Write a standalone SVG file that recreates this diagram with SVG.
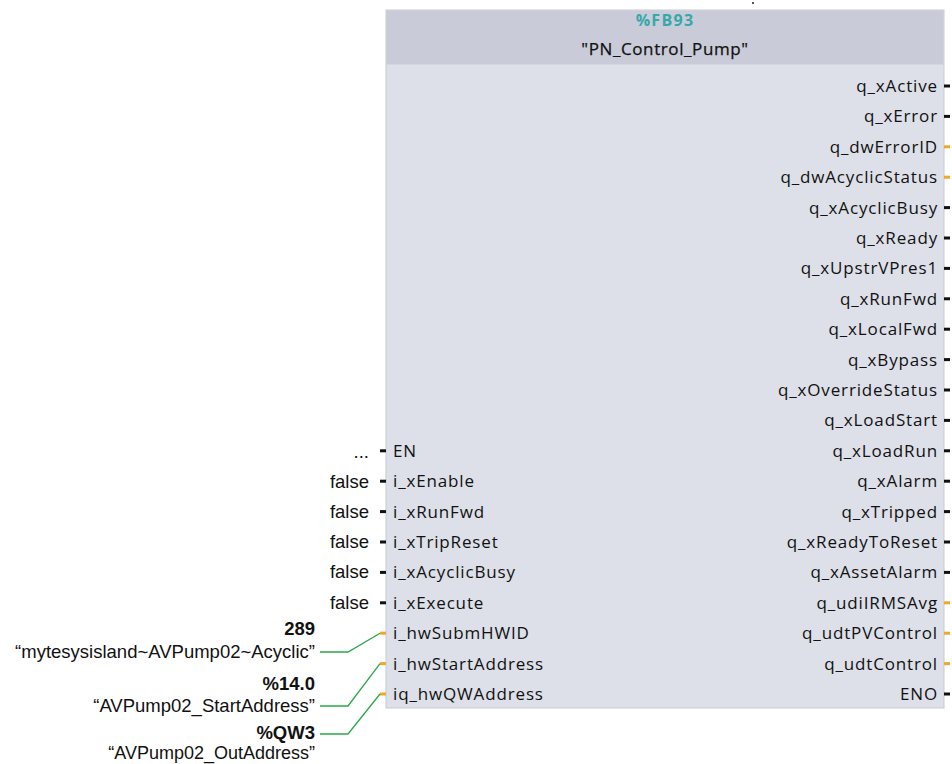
<svg xmlns="http://www.w3.org/2000/svg" width="952" height="764" viewBox="0 0 952 764">
<style>
.pin{font-family:"Open Sans","DejaVu Sans",sans-serif;font-size:17px;fill:#111;letter-spacing:0.85px}
.r{text-anchor:end}
.val{font-family:"Liberation Sans",Arial,sans-serif;font-size:18.5px;fill:#111;text-anchor:end}
.b{font-weight:bold}
.stub{stroke:#111;stroke-width:3}
.ostub{stroke:#f5a623;stroke-width:3}
.wire{fill:none;stroke:#2aa84a;stroke-width:1.3}
</style>
<rect width="952" height="764" fill="#ffffff"/>
<rect x="752" y="2" width="2" height="2" fill="#555"/>
<g id="fb93">
<rect x="386" y="10" width="558" height="698" fill="#dde0e8" stroke="#c6c9d4" stroke-width="1"/>
<rect x="386.5" y="10.5" width="557" height="54" fill="#c9cbd8"/>
<text x="665" y="26" text-anchor="middle" font-family="Open Sans,DejaVu Sans,sans-serif" font-size="16" font-weight="bold" fill="#35a9a9" letter-spacing="1.3">%FB93</text>
<text x="665" y="55" text-anchor="middle" class="pin" style="letter-spacing:0.6px;stroke:#111;stroke-width:0.25px">"PN_Control_Pump"</text>
</g>
<g id="outputs">
<text class="pin r" x="938" y="92">q_xActive</text>
<text class="pin r" x="938" y="122">q_xError</text>
<text class="pin r" x="938" y="153">q_dwErrorID</text>
<text class="pin r" x="938" y="183">q_dwAcyclicStatus</text>
<text class="pin r" x="938" y="214">q_xAcyclicBusy</text>
<text class="pin r" x="938" y="244">q_xReady</text>
<text class="pin r" x="938" y="274">q_xUpstrVPres1</text>
<text class="pin r" x="938" y="305">q_xRunFwd</text>
<text class="pin r" x="938" y="335">q_xLocalFwd</text>
<text class="pin r" x="938" y="366">q_xBypass</text>
<text class="pin r" x="938" y="396">q_xOverrideStatus</text>
<text class="pin r" x="938" y="426">q_xLoadStart</text>
<text class="pin r" x="938" y="457">q_xLoadRun</text>
<text class="pin r" x="938" y="487">q_xAlarm</text>
<text class="pin r" x="938" y="518">q_xTripped</text>
<text class="pin r" x="938" y="548">q_xReadyToReset</text>
<text class="pin r" x="938" y="578">q_xAssetAlarm</text>
<text class="pin r" x="938" y="609">q_udiIRMSAvg</text>
<text class="pin r" x="938" y="639">q_udtPVControl</text>
<text class="pin r" x="938" y="670">q_udtControl</text>
<text class="pin r" x="938" y="700">ENO</text>
</g>
<g id="inputs">
<text class="pin" x="393" y="457">EN</text>
<text class="pin" x="393" y="487">i_xEnable</text>
<text class="pin" x="393" y="518">i_xRunFwd</text>
<text class="pin" x="393" y="548">i_xTripReset</text>
<text class="pin" x="393" y="578">i_xAcyclicBusy</text>
<text class="pin" x="393" y="609">i_xExecute</text>
<text class="pin" x="393" y="639">i_hwSubmHWID</text>
<text class="pin" x="393" y="670">i_hwStartAddress</text>
<text class="pin" x="393" y="700">iq_hwQWAddress</text>
</g>
<g id="stubs">
<line class="stub" x1="944" y1="86" x2="950" y2="86"/>
<line class="stub" x1="944" y1="116.4" x2="950" y2="116.4"/>
<line class="ostub" x1="944" y1="146.8" x2="950" y2="146.8"/>
<line class="ostub" x1="944" y1="177.2" x2="950" y2="177.2"/>
<line class="stub" x1="944" y1="207.6" x2="950" y2="207.6"/>
<line class="stub" x1="944" y1="238" x2="950" y2="238"/>
<line class="stub" x1="944" y1="268.4" x2="950" y2="268.4"/>
<line class="stub" x1="944" y1="298.8" x2="950" y2="298.8"/>
<line class="stub" x1="944" y1="329.2" x2="950" y2="329.2"/>
<line class="stub" x1="944" y1="359.6" x2="950" y2="359.6"/>
<line class="stub" x1="944" y1="390" x2="950" y2="390"/>
<line class="stub" x1="944" y1="420.4" x2="950" y2="420.4"/>
<line class="stub" x1="944" y1="450.8" x2="950" y2="450.8"/>
<line class="stub" x1="944" y1="481.2" x2="950" y2="481.2"/>
<line class="stub" x1="944" y1="511.6" x2="950" y2="511.6"/>
<line class="stub" x1="944" y1="542" x2="950" y2="542"/>
<line class="stub" x1="944" y1="572.4" x2="950" y2="572.4"/>
<line class="ostub" x1="944" y1="602.8" x2="950" y2="602.8"/>
<line class="ostub" x1="944" y1="633.2" x2="950" y2="633.2"/>
<line class="ostub" x1="944" y1="663.6" x2="950" y2="663.6"/>
<line class="stub" x1="944" y1="694" x2="950" y2="694"/>
<line class="stub" x1="380" y1="450.8" x2="386" y2="450.8"/>
<line class="stub" x1="380" y1="481.2" x2="386" y2="481.2"/>
<line class="stub" x1="380" y1="511.6" x2="386" y2="511.6"/>
<line class="stub" x1="380" y1="542" x2="386" y2="542"/>
<line class="stub" x1="380" y1="572.4" x2="386" y2="572.4"/>
<line class="stub" x1="380" y1="602.8" x2="386" y2="602.8"/>
<line class="ostub" x1="380" y1="633.2" x2="386" y2="633.2"/>
<line class="ostub" x1="380" y1="663.6" x2="386" y2="663.6"/>
<line class="ostub" x1="380" y1="694" x2="386" y2="694"/>
</g>
<g id="connectors">
<path class="wire" d="M320 652 H348 L380 633.2"/>
<path class="wire" d="M320 706 H348 L380 663.6"/>
<path class="wire" d="M320 734 H348 L380 694"/>
</g>
<g id="values">
<text class="val" x="369" y="458">...</text>
<text class="val" x="369" y="488">false</text>
<text class="val" x="369" y="518">false</text>
<text class="val" x="369" y="548">false</text>
<text class="val" x="369" y="578">false</text>
<text class="val" x="369" y="609">false</text>
<text class="val b" x="315" y="635">289</text>
<text class="val" x="315" y="658">“mytesysisland~AVPump02~Acyclic”</text>
<text class="val b" x="315" y="690">%14.0</text>
<text class="val" x="315" y="712">“AVPump02_StartAddress”</text>
<text class="val b" x="315" y="739">%QW3</text>
<text class="val" x="315" y="759" style="font-size:18px">“AVPump02_OutAddress”</text>
</g>
</svg>
